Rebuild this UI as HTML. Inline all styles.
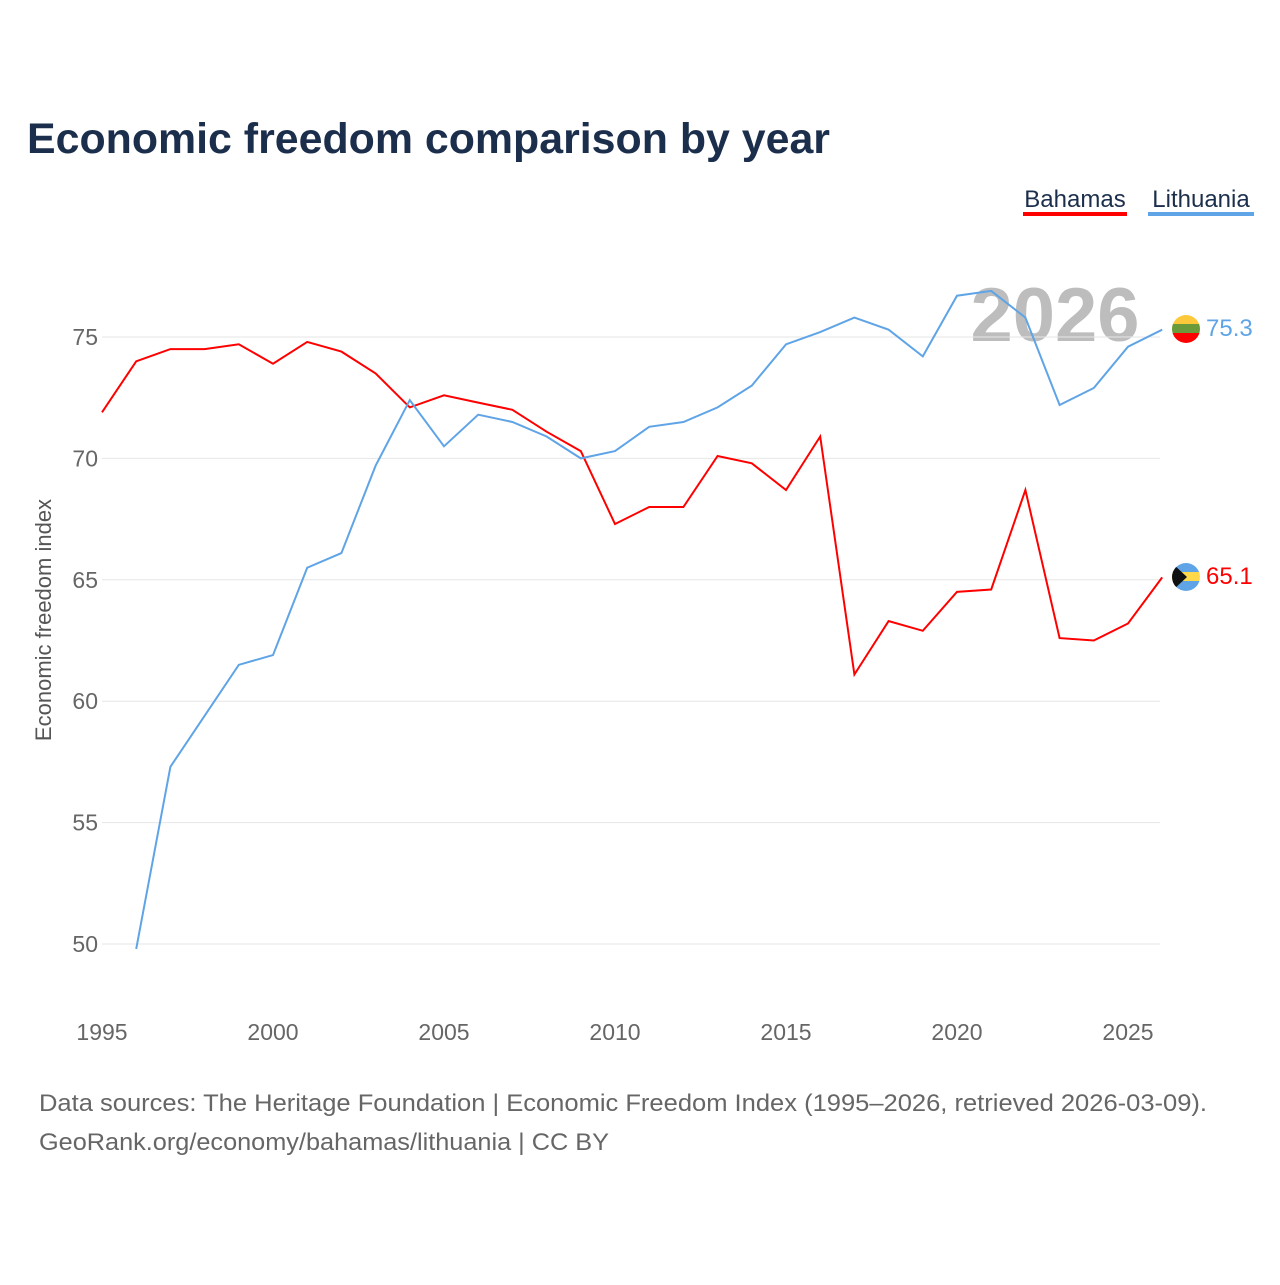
<!DOCTYPE html>
<html><head><meta charset="utf-8"><style>
body{margin:0;background:#fff;font-family:"Liberation Sans",sans-serif}
</style></head><body>
<svg width="1280" height="1280" xmlns="http://www.w3.org/2000/svg" style="font-family:'Liberation Sans',sans-serif">
<text x="27" y="153" font-size="43" font-weight="bold" fill="#1b2e4b" textLength="803" lengthAdjust="spacingAndGlyphs">Economic freedom comparison by year</text>
<g><text x="1075" y="207" font-size="24" fill="#1b2e4b" text-anchor="middle">Bahamas</text><rect x="1023" y="212" width="104" height="4" fill="#ff0000"/></g>
<g><text x="1201" y="207" font-size="24" fill="#1b2e4b" text-anchor="middle">Lithuania</text><rect x="1148" y="212" width="106" height="4" fill="#5fa4e6"/></g>
<text x="1055" y="341" font-size="76" font-weight="bold" fill="#bdbdbd" text-anchor="middle">2026</text>
<g id="grid"></g><g id="xt"></g><g id="lines"></g>
<text transform="translate(51,620) rotate(-90)" font-size="22" fill="#555" text-anchor="middle">Economic freedom index</text>
<text x="39" y="1111" font-size="24" fill="#666" textLength="1168" lengthAdjust="spacingAndGlyphs">Data sources: The Heritage Foundation | Economic Freedom Index (1995–2026, retrieved 2026-03-09).</text>
<text x="39" y="1150" font-size="24" fill="#666" textLength="570" lengthAdjust="spacingAndGlyphs">GeoRank.org/economy/bahamas/lithuania | CC BY</text>
<g><clipPath id="c1"><circle cx="1186" cy="329" r="14"/></clipPath><g clip-path="url(#c1)"><rect x="1172" y="315" width="28" height="10" fill="#fdc93a"/><rect x="1172" y="324" width="28" height="10" fill="#6a9a3a"/><rect x="1172" y="333" width="28" height="10" fill="#ff0000"/></g></g>
<g><clipPath id="c2"><circle cx="1186" cy="577" r="14"/></clipPath><g clip-path="url(#c2)"><rect x="1172" y="563" width="28" height="10" fill="#5fa4e6"/><rect x="1172" y="572" width="28" height="10" fill="#ffd94a"/><rect x="1172" y="581" width="28" height="10" fill="#5fa4e6"/><polygon points="1172,563 1187,577 1172,591" fill="#111"/></g></g>
<text x="1206" y="336" font-size="24" fill="#5fa4e6">75.3</text>
<text x="1206" y="584" font-size="24" fill="#ff0000">65.1</text>
</svg>
<script>
const years=[1995,1996,1997,1998,1999,2000,2001,2002,2003,2004,2005,2006,2007,2008,2009,2010,2011,2012,2013,2014,2015,2016,2017,2018,2019,2020,2021,2022,2023,2024,2025,2026];
const bahamas=[71.9,74.0,74.5,74.5,74.7,73.9,74.8,74.4,73.5,72.1,72.6,72.3,72.0,71.1,70.3,67.3,68.0,68.0,70.1,69.8,68.7,70.9,61.1,63.3,62.9,64.5,64.6,68.7,62.6,62.5,63.2,65.1];
const lithuania=[null,49.8,57.3,59.4,61.5,61.9,65.5,66.1,69.7,72.4,70.5,71.8,71.5,70.9,70.0,70.3,71.3,71.5,72.1,73.0,74.7,75.2,75.8,75.3,74.2,76.7,76.9,75.8,72.2,72.9,74.6,75.3];
const yTicks=[50,55,60,65,70,75];
const xTicks=[1995,2000,2005,2010,2015,2020,2025];
const NS="http://www.w3.org/2000/svg";
const X=y=>102+(y-1995)*34.2;
const Y=v=>337+(75-v)*24.28;
const grid=document.getElementById('grid');
yTicks.forEach(t=>{
 const l=document.createElementNS(NS,'line');
 l.setAttribute('x1',102);l.setAttribute('x2',1160);l.setAttribute('y1',Y(t));l.setAttribute('y2',Y(t));
 l.setAttribute('stroke','#e6e6e6');
 
 
 grid.appendChild(l);
 const tx=document.createElementNS(NS,'text');
 tx.setAttribute('x',98);tx.setAttribute('y',Y(t)+8);tx.setAttribute('text-anchor','end');
 tx.setAttribute('font-size','23');tx.setAttribute('fill','#666');tx.textContent=t;
 
 
 grid.appendChild(tx);
});
const xt=document.getElementById('xt');
xTicks.forEach(t=>{
 const tx=document.createElementNS(NS,'text');
 tx.setAttribute('x',X(t));tx.setAttribute('y',1040);tx.setAttribute('text-anchor','middle');
 tx.setAttribute('font-size','23');tx.setAttribute('fill','#666');tx.textContent=t;
 
 
 xt.appendChild(tx);
});
function line(vals,color,name){
 const pts=[];vals.forEach((v,i)=>{if(v!=null)pts.push(X(years[i]).toFixed(1)+','+Y(v).toFixed(1));});
 const p=document.createElementNS(NS,'polyline');
 p.setAttribute('points',pts.join(' '));p.setAttribute('fill','none');p.setAttribute('stroke',color);p.setAttribute('stroke-width','2');
 
 
 document.getElementById('lines').appendChild(p);
}
line(bahamas,'#ff0000','line-bahamas');
line(lithuania,'#5fa4e6','line-lithuania');
</script>
</body></html>
